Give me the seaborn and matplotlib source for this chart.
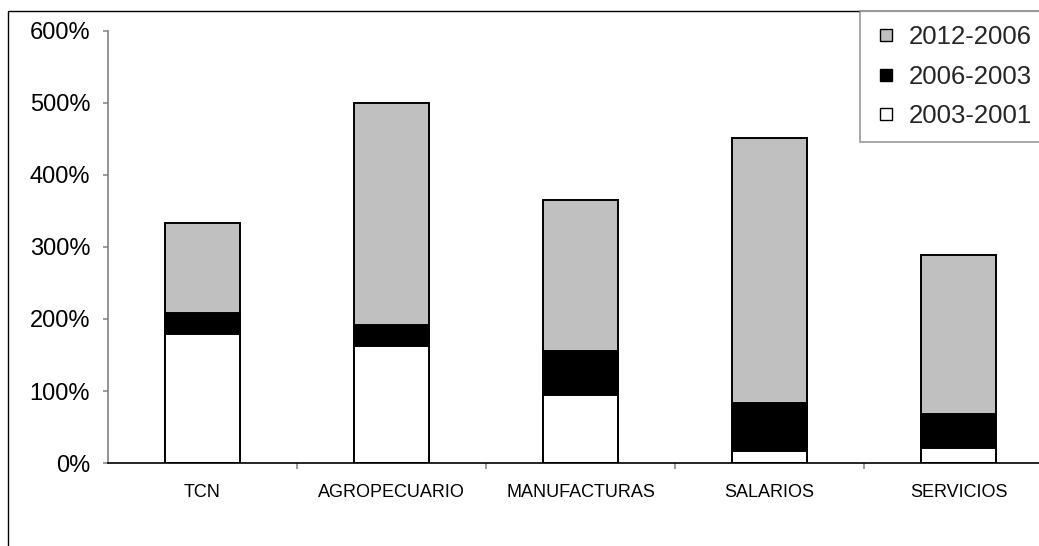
import matplotlib
matplotlib.use("Agg")
import matplotlib.pyplot as plt
from matplotlib.lines import Line2D
from matplotlib.patches import Rectangle
from matplotlib.ticker import FuncFormatter, FixedLocator
import seaborn as sns
import pandas as pd
import numpy as np

# Variación acumulada por sector (%), por subperíodo
categorias = ["TCN", "AGROPECUARIO", "MANUFACTURAS", "SALARIOS", "SERVICIOS"]
p2003_2001 = [179, 163, 95, 16, 21]
p2006_2003 = [30, 28, 60, 68, 47]
p2012_2006 = [124, 309, 210, 367, 221]
etiquetas = ["2012-2006", "2006-2003", "2003-2001"]
colores = ["#c0c0c0", "#000000", "#ffffff"]
yticks = [0, 100, 200, 300, 400, 500, 600]

sns.set_theme(style="white")
plt.rcParams["font.family"] = ["Liberation Sans", "DejaVu Sans"]

W, H = 1039, 546
fig = plt.figure(figsize=(W / 100, H / 100), dpi=100)
ax = fig.add_axes([108 / W, 1 - 463 / H, (1053 - 108) / W, (463 - 31) / H])

c1 = np.array(p2003_2001)
c2 = c1 + np.array(p2006_2003)
c3 = c2 + np.array(p2012_2006)
df = pd.DataFrame({"cat": categorias, "c1": c1, "c2": c2, "c3": c3})

# Barras apiladas: se dibuja primero el total y encima los tramos inferiores
for col, color in zip(["c3", "c2", "c1"], colores):
    sns.barplot(data=df, x="cat", y=col, color=color, width=0.4,
                edgecolor="black", linewidth=1.4, saturation=1, ax=ax)

ax.set_ylim(0, 600)
ax.set_xlim(-0.5, len(categorias) - 0.5)
ax.set_yticks(yticks)
ax.yaxis.set_major_formatter(FuncFormatter(lambda v, p: f"{v:.0f}%"))
ax.set_xlabel("")
ax.set_ylabel("")

for s in ["top", "right"]:
    ax.spines[s].set_visible(False)
ax.spines["left"].set_color("#808080")
ax.spines["left"].set_linewidth(1.2)
ax.spines["bottom"].set_color("black")
ax.spines["bottom"].set_linewidth(1.2)

ax.tick_params(axis="y", which="both", left=True, length=3.8, width=1.1,
               color="#808080", labelsize=17, pad=9, labelcolor="black")
ax.tick_params(axis="x", which="major", bottom=False, length=0, labelsize=13,
               pad=15, labelcolor="black")
ax.xaxis.set_minor_locator(FixedLocator(np.arange(0.5, len(categorias) - 0.5, 1)))
ax.tick_params(axis="x", which="minor", bottom=True, length=4, width=1.1,
               color="#808080")

# Marco del área del gráfico
fig.patches.append(Rectangle((8 / W, -0.1), 2, 1 - 11 / H + 0.1,
                             transform=fig.transFigure, fill=False,
                             edgecolor="black", linewidth=1.0, zorder=0))

handles = [Line2D([], [], linestyle="none", marker="s", markersize=8.3,
                  markerfacecolor=c, markeredgecolor="black",
                  markeredgewidth=1.0) for c in colores]
leg = fig.legend(handles, etiquetas, loc="upper left",
                 bbox_to_anchor=(860 / W, 1 - 11 / H), bbox_transform=fig.transFigure,
                 fontsize=18.5, frameon=True, fancybox=False, labelspacing=0.6,
                 handlelength=0.9, handletextpad=0.43, borderpad=0.55,
                 borderaxespad=0)
leg.get_frame().set_edgecolor("#808080")
leg.get_frame().set_linewidth(1.2)

fig.savefig("out.png", dpi=100)
